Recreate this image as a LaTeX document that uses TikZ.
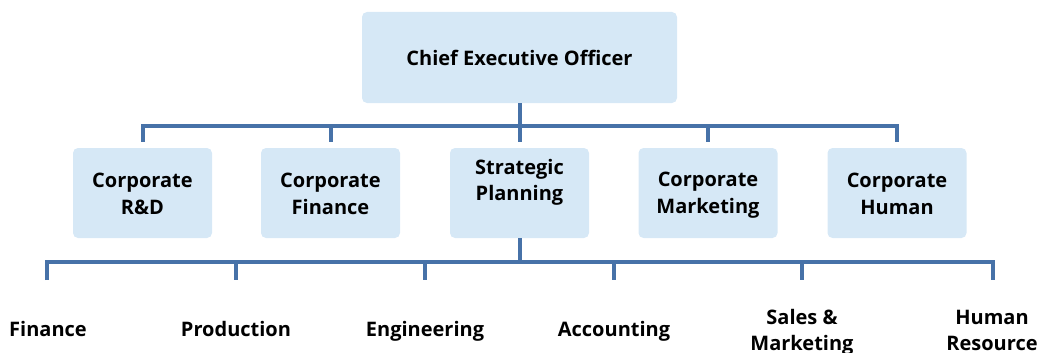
\documentclass[tikz,border=0pt]{standalone}
\usepackage{fontspec}
\setmainfont{Open Sans}
\definecolor{boxfill}{RGB}{214,232,246}
\definecolor{linec}{RGB}{71,114,168}
\newcommand\lastst{\rule[-1.8pt]{0pt}{20pt}}
\begin{document}
\begin{tikzpicture}[x=1pt,y=-1pt,
  box/.style={fill=boxfill,rounded corners=5pt,minimum width=139pt,minimum height=90pt,align=center,inner sep=0pt,font=\fontsize{20}{26}\selectfont\bfseries},
  lbl/.style={align=center,inner sep=0pt,font=\fontsize{20}{26}\selectfont\bfseries},
  conn/.style={draw=linec,line width=4pt,line join=miter}]
\useasboundingbox (0,0) rectangle (1044,353);
\node[box,minimum width=315pt,minimum height=91pt] (ceo) at (519.5,57.5) {Chief Executive Officer};
\node[box] (n1) at (142.5,193) {\strut Corporate\\R\&D\lastst};
\node[box] (n2) at (330.5,193) {\strut Corporate\\Finance\lastst};
\node[box] (n3) at (519.5,193) {\strut Strategic\\\strut Planning\\\lastst};
\node[box] (n4) at (708,193) {\strut Corporate\\Marketing\lastst};
\node[box] (n5) at (897,193) {\strut Corporate\\Human\lastst};
\coordinate (bar1) at (519.5,126);
\draw[conn] ([yshift=6pt]n1.north) |- (bar1) -| ([yshift=6pt]n5.north);
\draw[conn] (ceo.south) -- ([yshift=6pt]n3.north);
\draw[conn] (bar1 -| n2) -- ([yshift=6pt]n2.north);
\draw[conn] (bar1 -| n4) -- ([yshift=6pt]n4.north);
% bottom level
\node[lbl,anchor=base] (b1) at (48,336) {Finance};
\node[lbl,anchor=base] (b2) at (236,336) {Production};
\node[lbl,anchor=base] (b3) at (425,336) {Engineering};
\node[lbl,anchor=base] (b4) at (614,336) {Accounting};
\node[lbl] (b5) at (802,332) {\strut Sales \&\\\strut Marketing};
\node[lbl] (b6) at (992,332) {\strut Human\\\strut Resource};
\coordinate (bar2) at (519.5,262);
\coordinate (e1) at (47,280);
\coordinate (e2) at (236,280);
\coordinate (e3) at (425,280);
\coordinate (e4) at (614,280);
\coordinate (e5) at (802,280);
\coordinate (e6) at (993,280);
\draw[conn] (e1) |- (bar2) -| (e6);
\draw[conn] (n3.south) -- (bar2);
\draw[conn] (bar2 -| e2) -- (e2);
\draw[conn] (bar2 -| e3) -- (e3);
\draw[conn] (bar2 -| e4) -- (e4);
\draw[conn] (bar2 -| e5) -- (e5);
\end{tikzpicture}
\end{document}
